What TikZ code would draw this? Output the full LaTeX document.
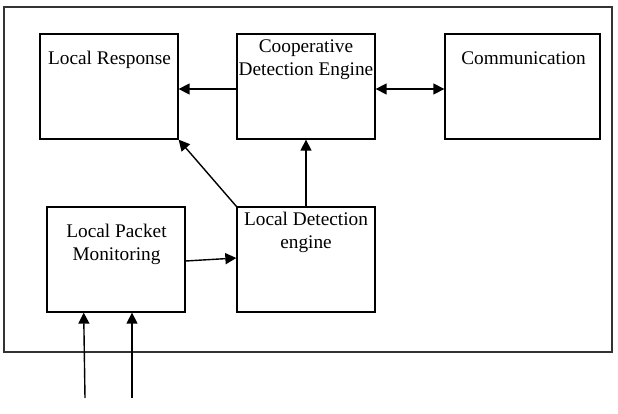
\documentclass[tikz,border=0pt]{standalone}
\usepackage{fontspec}
\setmainfont{Liberation Serif}
\usetikzlibrary{arrows.meta,calc}
\begin{document}
\begin{tikzpicture}[x=1pt,y=-1pt,
  box/.style={draw=black,line width=1.3pt,inner sep=0pt},
  lbl/.style={inner sep=0pt,anchor=base,align=center,font=\fontsize{19.3}{22.5}\selectfont},
  arr/.style={line width=1.4pt,-{Triangle[length=11pt,width=11pt]}},
  darr/.style={line width=1.4pt,{Triangle[length=11pt,width=11pt]}-{Triangle[length=11pt,width=11pt]}}]
\useasboundingbox (0,0) rectangle (618,414);
\fill[white] (0,0) rectangle (618,414);
\node[draw=black!80,line width=2pt,inner sep=0pt,minimum width=608pt,minimum height=345pt] (outer) at (308,179.5) {};
\node[box,minimum width=138pt,minimum height=105pt] (lr) at (109,86.5) {};
\node[box,minimum width=138pt,minimum height=105pt] (coop) at (306,86.5) {};
\node[box,minimum width=155pt,minimum height=105pt] (comm) at (522.5,86.5) {};
\node[box,minimum width=138pt,minimum height=105pt] (lpm) at (116,259.5) {};
\node[box,minimum width=138pt,minimum height=105pt] (lde) at (306,259.5) {};
\node[lbl] (tlr) at (109.5,65) {Local Response};
\node[lbl] (tcoop) at (306,75.5) {Cooperative\\Detection Engine};
\node[lbl] (tcomm) at (523.5,65) {Communication};
\node[lbl] (tlpm) at (116.5,260) {Local Packet\\Monitoring};
\node[lbl] (tlde) at (306,248) {Local Detection\\engine};
\draw[arr] (coop.west |- 0,89) -- (lr.east |- 0,89);
\draw[darr] (coop.east |- 0,89) -- (comm.west |- 0,89);
\draw[arr] (lde.north) -- (coop.south);
\draw[arr] (lde.north west) -- (lr.south east);
\draw[arr] (lpm.east |- 0,261) -- (lde.west |- 0,258);
\coordinate (in1) at (85,398);
\coordinate (in2) at (132,398);
\draw[arr] (in1) -- (lpm.south -| 83.7,0);
\draw[arr] (in2) -- (lpm.south -| 132,0);
\end{tikzpicture}
\end{document}
